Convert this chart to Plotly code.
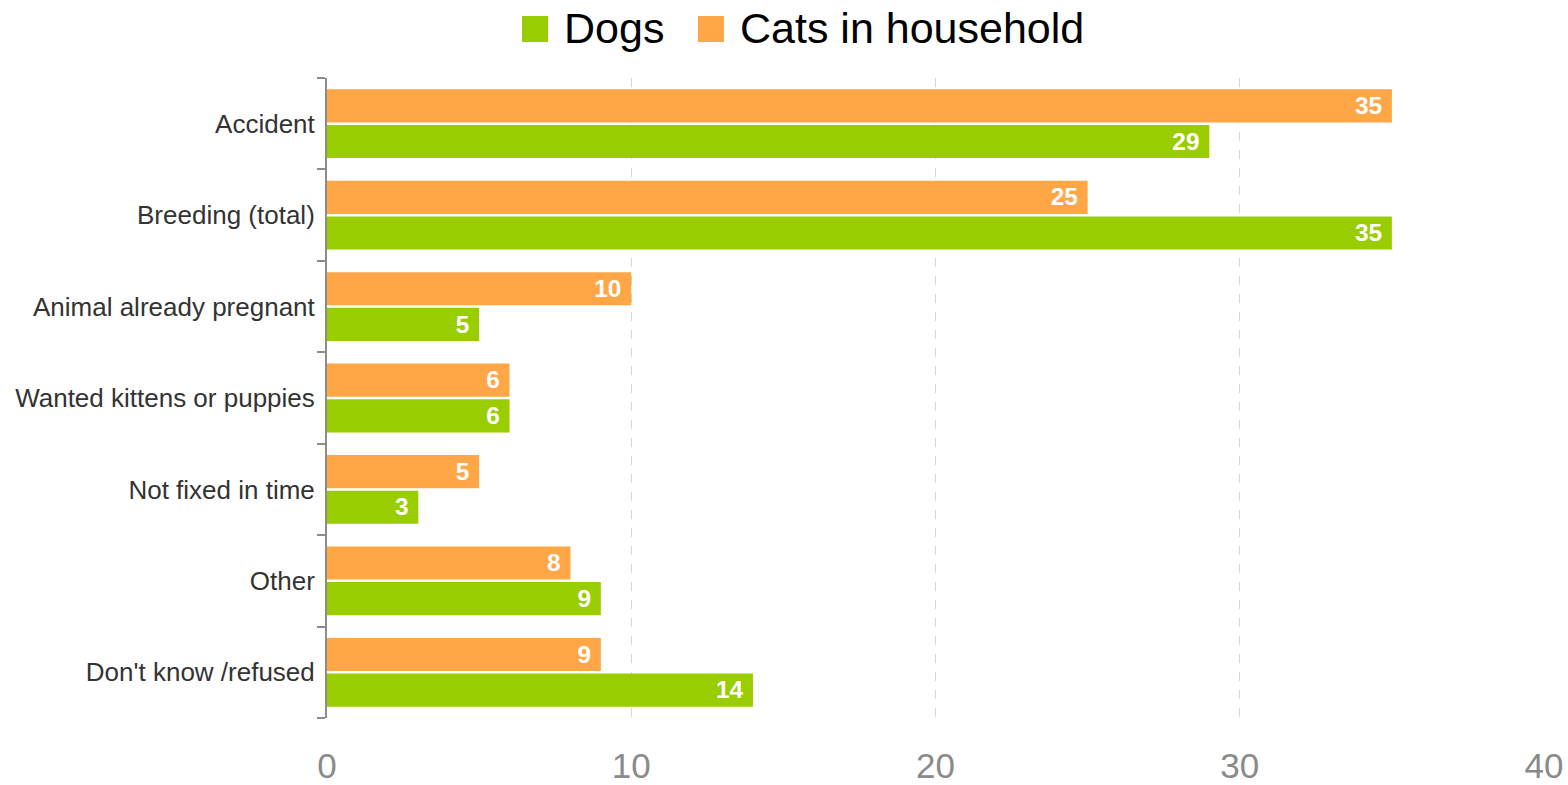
import plotly.graph_objects as go

# Reasons for the litter, percent of respondents
reasons = [
    "Accident",
    "Breeding (total)",
    "Animal already pregnant",
    "Wanted kittens or puppies",
    "Not fixed in time",
    "Other",
    "Don't know /refused",
]
dogs = [29, 35, 5, 6, 3, 9, 14]
cats = [35, 25, 10, 6, 5, 8, 9]

x_ticks = [0, 10, 20, 30, 40]

GREEN = "#9ACD00"
ORANGE = "#FFA647"
FONT = "Liberation Sans, Arial, sans-serif"

W, H = 1568, 785
M = dict(l=327, r=24, t=78, b=67)

label_font = dict(family=FONT, size=27, color="white")

fig = go.Figure()
fig.add_trace(go.Bar(
    name="Dogs", y=reasons, x=dogs, orientation="h",
    marker=dict(color=GREEN, line=dict(width=0)),
    text=[f"<b>{v}</b> " for v in dogs], textposition="inside",
    insidetextanchor="end", textangle=0, textfont=label_font,
    showlegend=False,
))
fig.add_trace(go.Bar(
    name="Cats in household", y=reasons, x=cats, orientation="h",
    marker=dict(color=ORANGE, line=dict(width=0)),
    text=[f"<b>{v}</b> " for v in cats], textposition="inside",
    insidetextanchor="end", textangle=0, textfont=label_font,
    showlegend=False,
))

# Legend drawn as swatches + labels above the plot (pixel -> paper coords)
plot_w = W - M["l"] - M["r"]
plot_h = H - M["t"] - M["b"]


def px(x):
    return (x - M["l"]) / plot_w


def py(y):
    return 1 - (y - M["t"]) / plot_h


legend_items = [("Dogs", GREEN, 522), ("Cats in household", ORANGE, 698)]
sw = 26
for name, color, x0 in legend_items:
    fig.add_shape(type="rect", xref="paper", yref="paper",
                  x0=px(x0), x1=px(x0 + sw), y0=py(42), y1=py(42 - sw),
                  fillcolor=color, line=dict(width=0))
    fig.add_annotation(xref="paper", yref="paper", x=px(x0 + sw + 14),
                       y=py(28), xanchor="left", yanchor="middle",
                       text=name, showarrow=False,
                       font=dict(size=43, color="#000000", family=FONT))

fig.update_layout(
    width=W, height=H,
    margin=dict(**M, autoexpand=False),
    paper_bgcolor="white", plot_bgcolor="white",
    barmode="group", bargap=0.22, bargroupgap=0.07,
    font=dict(family=FONT, color="#333333"),
    uniformtext=dict(mode="show", minsize=10),
    showlegend=False,
    xaxis=dict(
        range=[0, 40], tickvals=x_ticks, automargin=False,
        showgrid=True, gridcolor="#d6d6d6", griddash="dash", gridwidth=1,
        zeroline=False, showline=False, ticks="",
        ticklabelstandoff=24,
        tickfont=dict(size=35, color="#8a8a8a", family=FONT),
    ),
    yaxis=dict(
        categoryorder="array", categoryarray=reasons[::-1], automargin=False,
        showline=True, linecolor="#8c8c8c", linewidth=2,
        ticks="outside", tickson="boundaries", ticklen=8,
        tickcolor="#8c8c8c", tickwidth=2,
        tickfont=dict(size=26, color="#333333", family=FONT),
        ticklabelstandoff=5, showgrid=False,
    ),
)

fig.write_html("out.html")
